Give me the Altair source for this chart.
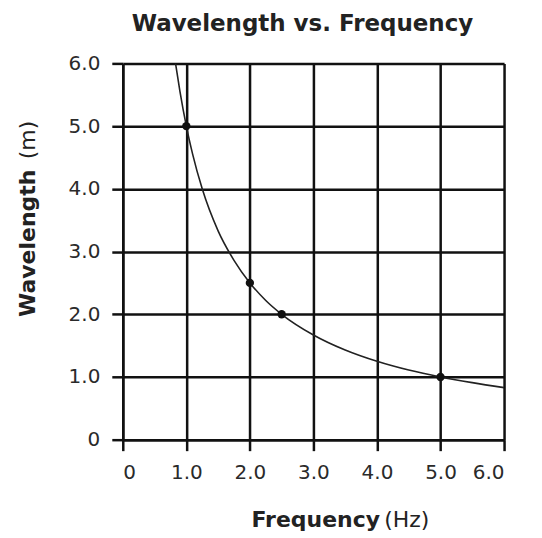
import altair as alt
import pandas as pd

# Curve
curve_freq = [0.83, 0.9, 1.0, 1.1, 1.25, 1.5, 1.75, 2.0, 2.25, 2.5, 3.0, 3.5, 4.0, 4.5, 5.0, 5.5, 6.0]
curve_wave = [6.0, 5.55, 5.0, 4.55, 4.0, 3.33, 2.86, 2.5, 2.22, 2.0, 1.67, 1.43, 1.25, 1.11, 1.0, 0.91, 0.83]

# Marked points
pt_freq = [1.0, 2.0, 2.5, 5.0]
pt_wave = [5.0, 2.5, 2.0, 1.0]

ticks = [0, 1, 2, 3, 4, 5, 6]

curve_df = pd.DataFrame({"f": curve_freq, "w": curve_wave})
pts_df = pd.DataFrame({"f": pt_freq, "w": pt_wave})

W, H = 382, 377
FONT = "DejaVu Sans"
lab = "datum.value == 0 ? '0' : format(datum.value, '.1f')"

xs = alt.Scale(domain=[0, 6], nice=False)
ys = alt.Scale(domain=[0, 6], nice=False)

common = dict(values=ticks, labelExpr=lab, title=None, grid=True, gridColor="#111",
              gridWidth=2.5, gridOpacity=1, tickColor="#111", tickWidth=2.5, tickSize=11,
              domainColor="#111", domainWidth=2.5, labelFont=FONT, labelFontSize=20,
              labelColor="#2a2a2a")
xax = alt.Axis(labelPadding=12, **common)
yax = alt.Axis(labelPadding=12, **common)

line = alt.Chart(curve_df).mark_line(color="#222", strokeWidth=1.6, interpolate="monotone", clip=True).encode(
    x=alt.X("f:Q", scale=xs, axis=xax),
    y=alt.Y("w:Q", scale=ys, axis=yax),
)

points = alt.Chart(pts_df).mark_circle(color="#111", size=70, opacity=1).encode(
    x=alt.X("f:Q", scale=xs),
    y=alt.Y("w:Q", scale=ys),
)

one = pd.DataFrame({"a": [0]})

def txt(text, x, y, bold, angle=0, size=19, align="left"):
    return alt.Chart(one).mark_text(
        text=text, font=FONT, fontSize=size, fontWeight="bold" if bold else "normal",
        color="#222", angle=angle, align=align, baseline="middle",
    ).encode(x=alt.value(x), y=alt.value(y))

title = txt("Wavelength vs. Frequency", 180, -39, True, size=23, align="center")
xt1 = txt("Frequency", 129, 457, True, size=22)
xt2 = txt("(Hz)", 262, 457, False, size=22)
yt1 = txt("Wavelength", -95, 254, True, angle=270, size=22)
yt2 = txt("(m)", -95, 96, False, angle=270, size=22)

chart = alt.layer(line, points, title, xt1, xt2, yt1, yt2).properties(
    width=W, height=H,
    autosize=alt.AutoSizeParams(type="none"),
    padding={"left": 115, "top": 55, "right": 30, "bottom": 96},
).configure_view(stroke=None)

chart.save("out.html", embed_options={"renderer": "svg", "actions": False})
